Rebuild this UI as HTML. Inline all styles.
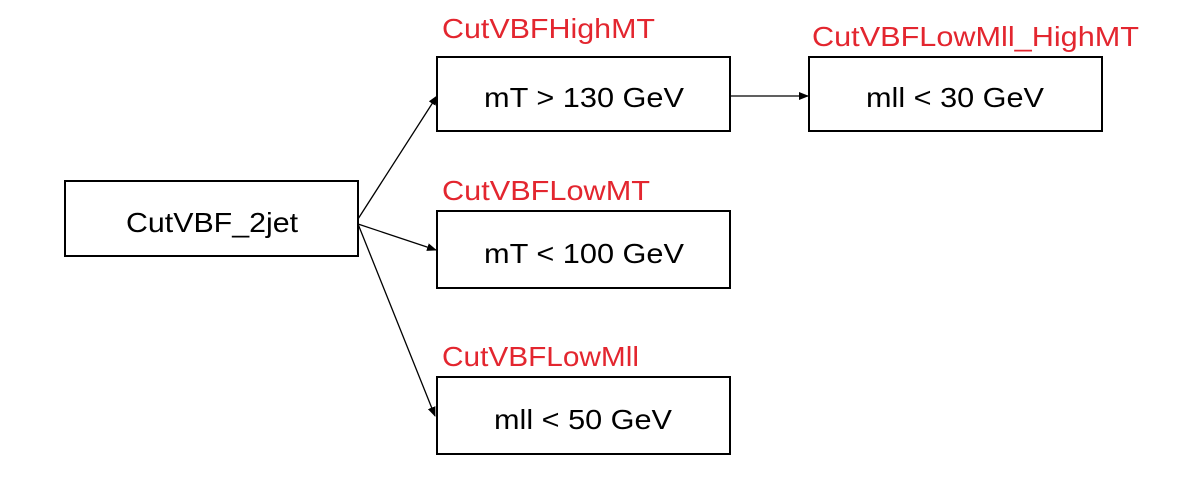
<!DOCTYPE html>
<html><head><meta charset="utf-8"><style>
html,body{margin:0;padding:0;background:#fff;width:1200px;height:478px;overflow:hidden}
svg text{font-family:"Liberation Sans",Arial,sans-serif;font-size:28px}
</style></head><body>
<svg width="1200" height="478" viewBox="0 0 1200 478" xmlns="http://www.w3.org/2000/svg">
<defs><marker id="a" markerWidth="10" markerHeight="8" refX="9" refY="4" orient="auto" markerUnits="userSpaceOnUse"><path d="M0,0 L10,4 L0,8 z" fill="#000"/></marker></defs>
<g fill="none" stroke="#000" stroke-width="2">
<rect x="65" y="181" width="293" height="75"/>
<rect x="437" y="57" width="293" height="74"/>
<rect x="437" y="211" width="293" height="77"/>
<rect x="437" y="377" width="293" height="77"/>
<rect x="809" y="57" width="293" height="74"/>
</g>
<g stroke="#000" stroke-width="1.3" fill="none">
<line x1="358" y1="219" x2="437" y2="96" marker-end="url(#a)"/>
<line x1="358" y1="224" x2="436" y2="250" marker-end="url(#a)"/>
<line x1="358" y1="224" x2="435" y2="416" marker-end="url(#a)"/>
<line x1="731" y1="96" x2="808" y2="96" marker-end="url(#a)"/>
</g>
<g fill="#000">
<text x="126" y="232" textLength="172" lengthAdjust="spacingAndGlyphs">CutVBF_2jet</text>
<text x="484" y="107" textLength="200" lengthAdjust="spacingAndGlyphs">mT &gt; 130 GeV</text>
<text x="484" y="263" textLength="200" lengthAdjust="spacingAndGlyphs">mT &lt; 100 GeV</text>
<text x="494" y="429" textLength="178" lengthAdjust="spacingAndGlyphs">mll &lt; 50 GeV</text>
<text x="866" y="107" textLength="178" lengthAdjust="spacingAndGlyphs">mll &lt; 30 GeV</text>
</g>
<g fill="#e3262f">
<text x="442" y="38" textLength="213" lengthAdjust="spacingAndGlyphs">CutVBFHighMT</text>
<text x="442" y="200" textLength="208" lengthAdjust="spacingAndGlyphs">CutVBFLowMT</text>
<text x="442" y="366" textLength="197" lengthAdjust="spacingAndGlyphs">CutVBFLowMll</text>
<text x="812" y="46" textLength="327" lengthAdjust="spacingAndGlyphs">CutVBFLowMll_HighMT</text>
</g>
</svg>
</body></html>
